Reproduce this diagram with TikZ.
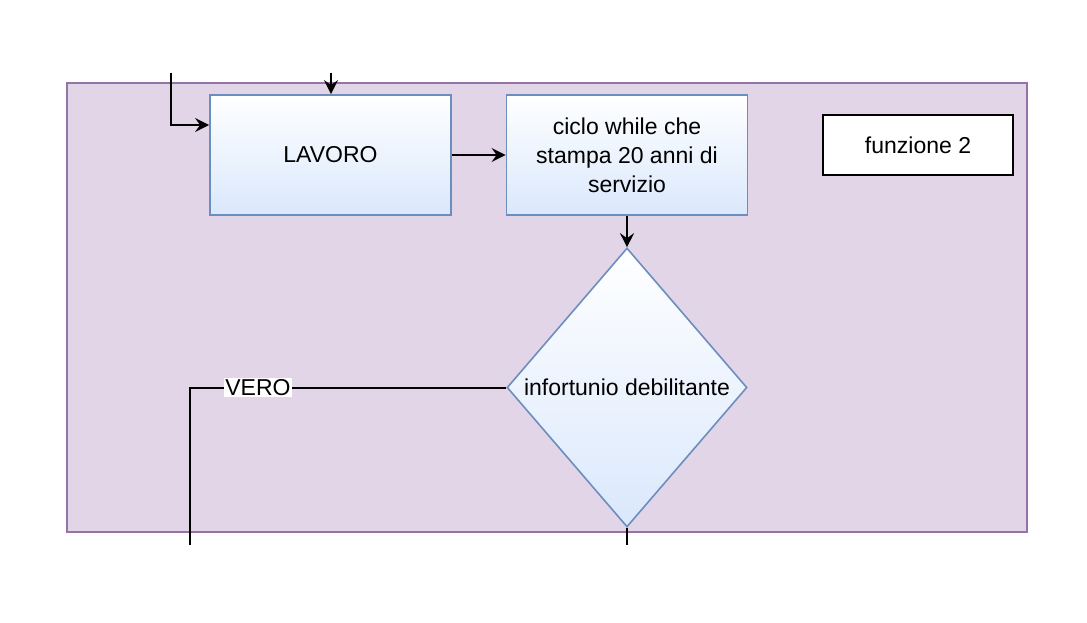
\documentclass[tikz,border=0pt]{standalone}
\usepackage{fontspec}
\setmainfont{Liberation Sans}
\usetikzlibrary{shapes.geometric,arrows.meta}
\definecolor{lilla}{HTML}{E1D5E7}
\definecolor{lillabordo}{HTML}{9673A6}
\definecolor{azzurro}{HTML}{DAE8FC}
\definecolor{bluebordo}{HTML}{6C8EBF}
\begin{document}
\begin{tikzpicture}[x=1pt, y=-1pt,
font=\fontsize{23}{29}\selectfont,
blocco/.style={draw=bluebordo, line width=1.8pt, top color=white, bottom color=azzurro,
  minimum width=241pt, minimum height=120pt, inner sep=0pt, align=center},
scelta/.style={diamond, draw=bluebordo, line width=1.6pt, top color=white, bottom color=azzurro,
  minimum width=240pt, minimum height=279pt, inner sep=0pt},
freccia/.style={line width=2pt, -{Stealth[length=14pt, width=14pt, inset=5pt]}},
linea/.style={line width=2pt}]
\useasboundingbox (0,0) rectangle (1087,623);
\draw[draw=lillabordo, fill=lilla, line width=1.8pt] (67,83) rectangle (1027,532);
\node[blocco] (lavoro) at (330.5,155) {LAVORO};
\node[blocco] (ciclo) at (627,155) {ciclo while che\\stampa 20 anni di\\servizio};
\node[scelta, label=center:{infortunio debilitante}] (infortunio) at (627,387.5) {};
\node[draw, line width=2pt, fill=white, minimum width=190pt, minimum height=60pt] (funz) at (918,145) {funzione 2};
\coordinate (entrataA) at (171,73);
\coordinate (entrataB) at (331,73);
\coordinate (uscitaV) at (190,545);
\coordinate (uscitaF) at (627,545);
\draw[freccia] (entrataA) |- (lavoro.west |- 0,125);
\draw[freccia] (entrataB) -- (lavoro.north -| entrataB);
\draw[freccia] (lavoro) -- (ciclo);
\draw[freccia] (ciclo) -- (infortunio.north);
\draw[linea] (infortunio.west) -- node[pos=0.785, fill=white, inner sep=1pt] (vero) {VERO}
  (infortunio.west -| uscitaV) -- (uscitaV);
\draw[linea] (infortunio.south) -- (uscitaF);
\end{tikzpicture}
\end{document}
